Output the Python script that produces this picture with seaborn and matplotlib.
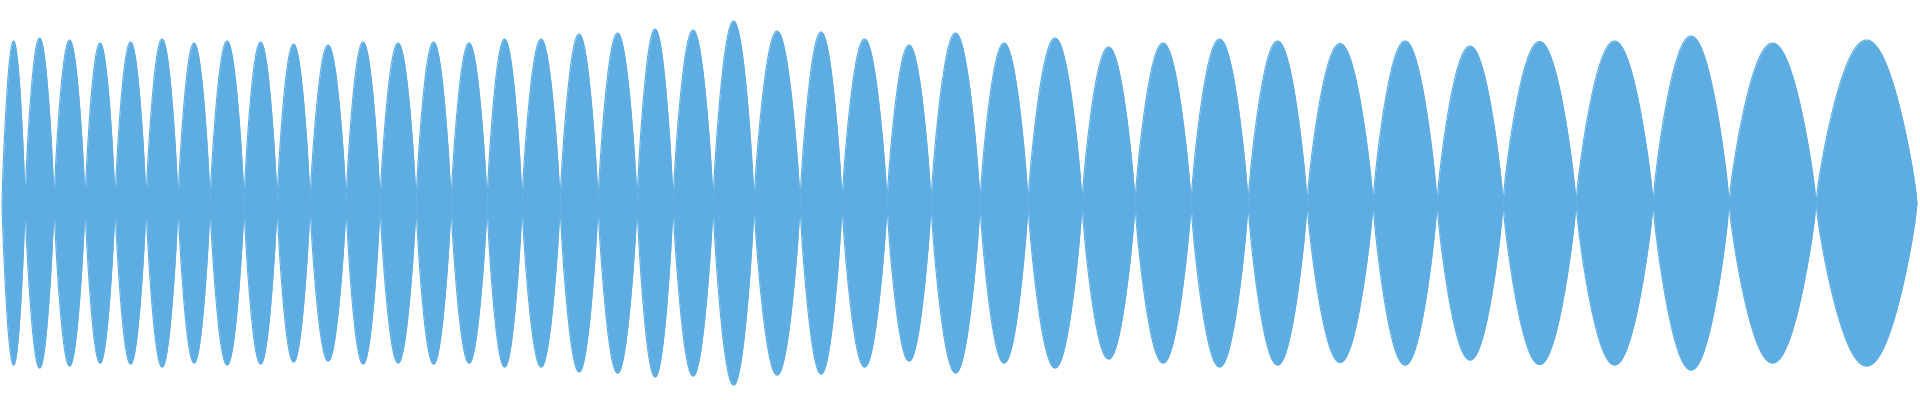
import numpy as np
import matplotlib
matplotlib.use("Agg")
import matplotlib.pyplot as plt
import seaborn as sns
import pandas as pd

sns.set_theme(style="white")

# zero-crossing positions of the envelope (time units)
crossings = [2, 25, 54, 85, 115, 146, 178, 210, 244, 277, 310, 346, 380, 416, 451, 487,
             522, 560, 598, 637, 673, 713, 754, 800, 842, 887, 931, 980, 1028, 1082,
             1135, 1191, 1248, 1307, 1373, 1437, 1503, 1576, 1653, 1729, 1816, 1917]
# peak amplitude of each lobe
peaks = [162, 165, 163, 160, 161, 164, 160, 162, 161, 159, 158, 161, 160, 161, 160, 164,
         164, 169, 170,
         174, 173, 182, 172, 171, 164, 158, 170, 160, 165, 156, 160, 164, 162,
         159.5, 162, 157, 161.5, 162, 167, 160, 163]

color = "#5DADE2"
rows = []
for i, amp in enumerate(peaks):
    a, b = crossings[i], crossings[i + 1]
    t = np.linspace(0, 1, 60)
    x = a + (b - a) * t
    env = amp * np.sin(np.pi * t) ** 0.8
    rows.append(pd.DataFrame({"x": x, "env": env}))
df = pd.concat(rows, ignore_index=True)

fig = plt.figure(figsize=(19.2, 4.0), dpi=100)
ax = fig.add_axes([0, 0, 1, 1])
sns.lineplot(data=df, x="x", y="env", ax=ax, color=color, lw=0.8, estimator=None, sort=False)
sns.lineplot(x=df["x"], y=-df["env"], ax=ax, color=color, lw=0.8, estimator=None, sort=False)
ax.fill_between(df["x"], -df["env"], df["env"], color=color, lw=0)
ax.set_xlim(0, 1920)
ax.set_ylim(-197, 203)
ax.axis("off")
fig.savefig("out.png", dpi=100)
